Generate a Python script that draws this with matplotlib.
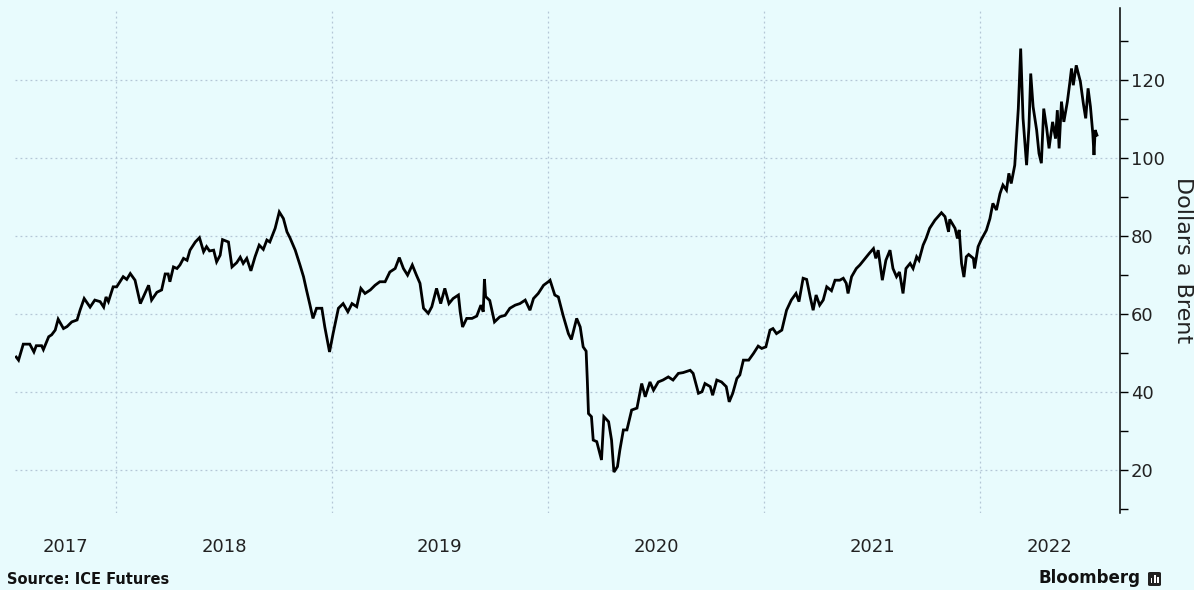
import matplotlib
matplotlib.use("Agg")
import matplotlib.pyplot as plt
from matplotlib.patches import FancyBboxPatch, Rectangle
import pandas as pd

# ---- data (Brent, dollars a barrel) ----
dates = [
    "2017-07-16", "2017-07-20", "2017-07-28", "2017-08-08", "2017-08-15", "2017-08-19", "2017-08-28", "2017-08-31",
    "2017-09-09", "2017-09-14", "2017-09-20", "2017-09-25", "2017-10-04", "2017-10-10", "2017-10-18", "2017-10-27",
    "2017-11-01", "2017-11-08", "2017-11-18", "2017-11-26", "2017-12-05", "2017-12-11", "2017-12-15", "2017-12-19",
    "2017-12-27", "2018-01-02", "2018-01-13", "2018-01-19", "2018-01-25", "2018-02-02", "2018-02-11", "2018-02-25",
    "2018-03-02", "2018-03-11", "2018-03-19", "2018-03-25", "2018-03-30", "2018-04-02", "2018-04-08", "2018-04-14",
    "2018-04-19", "2018-04-25", "2018-05-01", "2018-05-06", "2018-05-15", "2018-05-22", "2018-05-29", "2018-06-03",
    "2018-06-08", "2018-06-15", "2018-06-20", "2018-06-26", "2018-06-30", "2018-07-10", "2018-07-16", "2018-07-24",
    "2018-07-30", "2018-08-04", "2018-08-10", "2018-08-17", "2018-08-24", "2018-08-31", "2018-09-07", "2018-09-13",
    "2018-09-18", "2018-09-27", "2018-10-04", "2018-10-11", "2018-10-17", "2018-10-22", "2018-10-31", "2018-11-08",
    "2018-11-14", "2018-11-19", "2018-11-25", "2018-11-30", "2018-12-06", "2018-12-15", "2018-12-20", "2018-12-28",
    "2019-01-03", "2019-01-12", "2019-01-20", "2019-01-28", "2019-02-04", "2019-02-12", "2019-02-19", "2019-02-26",
    "2019-03-07", "2019-03-15", "2019-03-23", "2019-04-01", "2019-04-09", "2019-04-18", "2019-04-25", "2019-05-02",
    "2019-05-09", "2019-05-17", "2019-05-24", "2019-05-30", "2019-06-05", "2019-06-13", "2019-06-19", "2019-06-27",
    "2019-07-04", "2019-07-11", "2019-07-18", "2019-07-25", "2019-08-03", "2019-08-06", "2019-08-10", "2019-08-17",
    "2019-08-26", "2019-09-03", "2019-09-10", "2019-09-14", "2019-09-16", "2019-09-18", "2019-09-25", "2019-10-03",
    "2019-10-12", "2019-10-21", "2019-10-29", "2019-11-07", "2019-11-15", "2019-11-24", "2019-12-02", "2019-12-08",
    "2019-12-16", "2019-12-25", "2020-01-02", "2020-01-05", "2020-01-13", "2020-01-19", "2020-01-27", "2020-02-05",
    "2020-02-10", "2020-02-19", "2020-02-25", "2020-03-01", "2020-03-06", "2020-03-08", "2020-03-10", "2020-03-15",
    "2020-03-18", "2020-03-24", "2020-04-01", "2020-04-05", "2020-04-13", "2020-04-18", "2020-04-22", "2020-04-28",
    "2020-05-02", "2020-05-08", "2020-05-14", "2020-05-22", "2020-05-31", "2020-06-08", "2020-06-14", "2020-06-22",
    "2020-06-28", "2020-07-06", "2020-07-14", "2020-07-23", "2020-07-31", "2020-08-09", "2020-08-17", "2020-08-29",
    "2020-09-03", "2020-09-12", "2020-09-18", "2020-09-23", "2020-10-02", "2020-10-06", "2020-10-13", "2020-10-21",
    "2020-10-29", "2020-11-03", "2020-11-09", "2020-11-16", "2020-11-21", "2020-11-27", "2020-12-06", "2020-12-14",
    "2020-12-22", "2020-12-28", "2021-01-04", "2021-01-11", "2021-01-16", "2021-01-22", "2021-01-31", "2021-02-08",
    "2021-02-16", "2021-02-24", "2021-03-01", "2021-03-08", "2021-03-14", "2021-03-20", "2021-03-25", "2021-03-30",
    "2021-04-05", "2021-04-11", "2021-04-17", "2021-04-25", "2021-05-01", "2021-05-09", "2021-05-15", "2021-05-20",
    "2021-05-23", "2021-05-29", "2021-06-06", "2021-06-12", "2021-06-21", "2021-06-28", "2021-07-05", "2021-07-09",
    "2021-07-13", "2021-07-20", "2021-07-26", "2021-08-02", "2021-08-07", "2021-08-13", "2021-08-18", "2021-08-24",
    "2021-08-29", "2021-09-05", "2021-09-10", "2021-09-16", "2021-09-20", "2021-09-27", "2021-10-02", "2021-10-08",
    "2021-10-17", "2021-10-28", "2021-11-03", "2021-11-09", "2021-11-11", "2021-11-20", "2021-11-24", "2021-11-27",
    "2021-12-01", "2021-12-05", "2021-12-09", "2021-12-13", "2021-12-21", "2021-12-23", "2021-12-29", "2022-01-03",
    "2022-01-12", "2022-01-18", "2022-01-23", "2022-01-29", "2022-02-04", "2022-02-09", "2022-02-15", "2022-02-19",
    "2022-02-23", "2022-03-01", "2022-03-07", "2022-03-11", "2022-03-15", "2022-03-21", "2022-03-25", "2022-03-28",
    "2022-04-01", "2022-04-07", "2022-04-11", "2022-04-15", "2022-04-19", "2022-04-24", "2022-04-28", "2022-05-04",
    "2022-05-09", "2022-05-12", "2022-05-15", "2022-05-19", "2022-05-23", "2022-05-29", "2022-06-02", "2022-06-05",
    "2022-06-08", "2022-06-13", "2022-06-20", "2022-06-25", "2022-06-29", "2022-07-03", "2022-07-07", "2022-07-11",
    "2022-07-13", "2022-07-15", "2022-07-18",
]
brent = [
    49.0, 48.2, 52.3, 52.3, 50.3, 51.9, 51.9, 50.9,
    54.2, 54.7, 55.9, 58.7, 56.3, 56.8, 58.0, 58.5,
    61.0, 64.0, 61.8, 63.6, 63.2, 61.8, 64.4, 63.2,
    67.0, 67.0, 69.6, 68.9, 70.4, 68.7, 62.7, 67.4,
    63.6, 65.6, 66.2, 70.3, 70.3, 68.3, 72.1, 71.7,
    72.6, 74.3, 73.8, 76.4, 78.5, 79.6, 76.0, 77.3,
    76.2, 76.4, 73.4, 75.1, 79.1, 78.5, 72.1, 73.2,
    74.6, 73.0, 74.3, 71.1, 74.7, 77.7, 76.6, 79.0,
    78.5, 82.0, 86.2, 84.5, 81.1, 79.6, 76.4, 72.6,
    69.6, 66.2, 62.3, 58.9, 61.5, 61.5, 56.7, 50.3,
    55.0, 61.5, 62.7, 60.6, 62.7, 61.9, 66.6, 65.3,
    66.2, 67.4, 68.3, 68.3, 70.8, 71.7, 74.5, 71.7,
    70.0, 72.6, 70.0, 67.9, 61.5, 60.2, 61.9, 66.6,
    62.7, 66.6, 62.7, 64.0, 64.9, 60.6, 56.7, 58.9,
    58.9, 59.5, 62.3, 60.6, 69.0, 64.5, 63.5, 58.0,
    59.3, 59.7, 61.5, 62.3, 62.7, 63.6, 61.0, 64.0,
    65.3, 67.4, 68.3, 68.7, 64.9, 64.4, 59.7, 55.0,
    53.5, 58.9, 56.7, 51.6, 50.5, 43.1, 34.5, 33.7,
    27.7, 27.3, 22.6, 33.7, 32.4, 27.7, 19.5, 20.9,
    25.1, 30.3, 30.3, 35.4, 35.9, 42.2, 38.8, 42.6,
    40.5, 42.6, 43.1, 43.9, 43.1, 44.8, 45.0, 45.6,
    44.8, 39.7, 40.1, 42.2, 41.4, 39.2, 43.1, 42.6,
    41.4, 37.5, 39.7, 43.5, 44.4, 48.2, 48.2, 49.9,
    51.8, 51.2, 51.6, 55.9, 56.3, 55.0, 55.9, 61.0,
    63.6, 65.3, 63.2, 69.2, 68.9, 64.4, 61.0, 64.9,
    62.3, 63.6, 67.0, 66.0, 68.7, 68.7, 69.2, 67.9,
    65.3, 69.6, 71.7, 72.6, 74.3, 75.6, 76.8, 74.3,
    76.4, 68.7, 73.8, 76.4, 71.7, 69.6, 70.8, 65.3,
    71.7, 73.0, 71.7, 74.7, 73.8, 77.7, 79.4, 82.0,
    84.1, 86.0, 85.0, 81.1, 84.3, 82.0, 79.4, 81.6,
    73.0, 69.5, 74.7, 75.3, 74.3, 71.7, 77.3, 79.0,
    81.5, 84.5, 88.4, 86.7, 90.9, 93.1, 91.8, 96.1,
    93.5, 98.2, 112.7, 128.1, 110.2, 98.2, 108.0, 121.7,
    113.2, 107.2, 101.2, 98.7, 112.7, 107.6, 102.5, 109.3,
    105.0, 112.3, 102.5, 114.5, 109.3, 114.5, 119.2, 123.0,
    118.7, 123.8, 119.6, 114.0, 110.2, 117.9, 113.2, 106.3,
    100.8, 107.2, 105.9,
]
year_labels = ["2017", "2018", "2019", "2020", "2021", "2022"]
y_ticks = [20, 40, 60, 80, 100, 120]
y_label = "Dollars a Brent"
source_text = "Source: ICE Futures"
brand_text = "Bloomberg"

# ---- style ----
BG = "#e8fbfd"
GRID = "#b4c6d6"

fig = plt.figure(figsize=(11.94, 5.90), dpi=100, facecolor=BG)
ax = fig.add_axes([15 / 1194, 1 - 513 / 590, (1120 - 15) / 1194, (513 - 8) / 590])
ax.set_facecolor(BG)

x = pd.to_datetime(dates)
ax.plot(x, brent, color="black", lw=2.0, solid_joinstyle="miter")

xmin = pd.Timestamp("2017-07-14")
xmax = pd.Timestamp("2022-08-26")
ax.set_xlim(xmin, xmax)
ax.set_ylim(9, 138.5)

# spines
for s in ["left", "top", "bottom"]:
    ax.spines[s].set_visible(False)
ax.spines["right"].set_color("black")
ax.spines["right"].set_linewidth(1.1)

# y axis on right
ax.yaxis.tick_right()
ax.yaxis.set_label_position("right")
ax.set_yticks(y_ticks)
ax.set_yticklabels([str(v) for v in y_ticks])
ax.set_yticks([10, 30, 50, 70, 90, 110, 130], minor=True)
ax.tick_params(axis="y", which="both", direction="out", length=6, width=1.0,
               labelsize=13, pad=2, colors="black")
ax.tick_params(axis="y", which="major", labelcolor="#222222")
ax.set_ylabel(y_label, rotation=270, fontsize=16, labelpad=20, color="#222222")

# x axis: year boundaries as gridlines, labels at centre of visible span
year_starts = [pd.Timestamp(f"{y}-01-01") for y in year_labels[1:]]
ax.set_xticks(year_starts)
ax.set_xticklabels([])
ax.tick_params(axis="x", which="major", length=0)
centers = []
for y in year_labels:
    a = max(pd.Timestamp(f"{y}-01-01"), xmin)
    b = min(pd.Timestamp(f"{int(y) + 1}-01-01"), xmax)
    centers.append(a + (b - a) / 2)
ax.set_xticks(centers, minor=True)
ax.set_xticklabels(year_labels, minor=True)
ax.tick_params(axis="x", which="minor", length=0, labelsize=13, pad=18, labelcolor="#222222")

ax.grid(True, which="major", axis="both", color=GRID, linestyle=(0, (1.5, 2.5)), linewidth=0.9)
ax.set_axisbelow(True)

# footer
fig.text(7 / 1194, 1 - 579 / 590, source_text, fontsize=10.5, fontweight="bold",
         ha="left", va="center", color="#111111")
fig.text(1141 / 1194, 1 - 578 / 590, brand_text, fontsize=12, fontweight="bold",
         ha="right", va="center", color="#111111")
icon = FancyBboxPatch((1148 / 1194, 1 - 586 / 590), 13 / 1194, 14 / 590,
                      boxstyle="round,pad=0.0,rounding_size=0.002",
                      transform=fig.transFigure, facecolor="#222222", edgecolor="none")
fig.add_artist(icon)
for i, h in enumerate([5, 8, 6]):
    fig.add_artist(Rectangle(((1150.5 + i * 3.3) / 1194, 1 - 583 / 590), 1.8 / 1194, h / 590,
                             transform=fig.transFigure, facecolor="white", edgecolor="none"))

fig.savefig("out.png", dpi=100, facecolor=BG)
